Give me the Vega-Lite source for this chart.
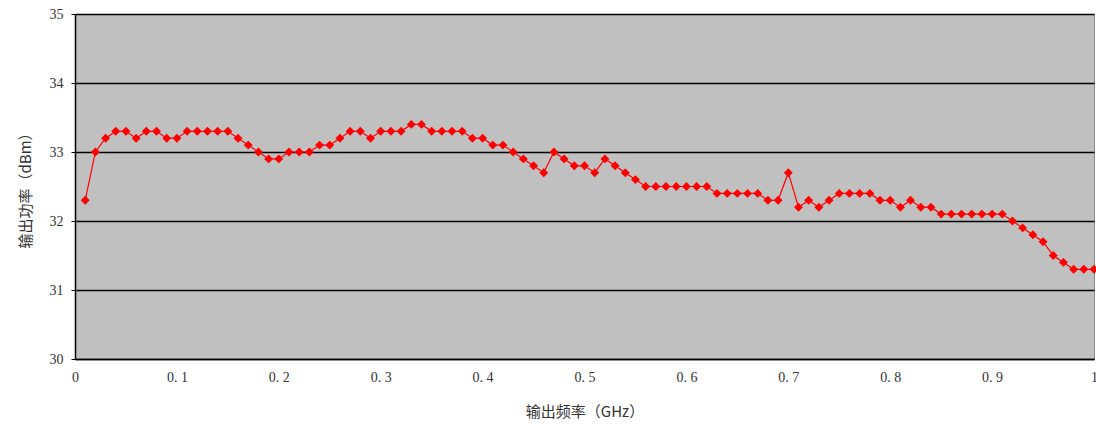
{
  "$schema": "https://vega.github.io/schema/vega-lite/v6.json",
  "width": 1019,
  "height": 345,
  "autosize": {"type": "none"},
  "padding": {"left": 75, "top": 14, "right": 2, "bottom": 72},
  "background": "white",
  "config": {
    "view": {"fill": "#C0C0C0", "stroke": "#8C8C8C", "strokeWidth": 1},
    "axis": {
      "labelFont": "Liberation Serif",
      "labelFontSize": 14,
      "labelColor": "#333333",
      "titleFont": "Noto Sans CJK SC",
      "titleFontSize": 15,
      "titleFontWeight": "normal",
      "titleColor": "#333333",
      "domainColor": "black",
      "domainWidth": 1.5,
      "tickColor": "black"
    }
  },
  "data": {
    "values": [
      {"f": 0.01, "p": 32.3}, {"f": 0.02, "p": 33.0}, {"f": 0.03, "p": 33.2}, {"f": 0.04, "p": 33.3}, {"f": 0.05, "p": 33.3},
      {"f": 0.06, "p": 33.2}, {"f": 0.07, "p": 33.3}, {"f": 0.08, "p": 33.3}, {"f": 0.09, "p": 33.2}, {"f": 0.10, "p": 33.2},
      {"f": 0.11, "p": 33.3}, {"f": 0.12, "p": 33.3}, {"f": 0.13, "p": 33.3}, {"f": 0.14, "p": 33.3}, {"f": 0.15, "p": 33.3},
      {"f": 0.16, "p": 33.2}, {"f": 0.17, "p": 33.1}, {"f": 0.18, "p": 33.0}, {"f": 0.19, "p": 32.9}, {"f": 0.20, "p": 32.9},
      {"f": 0.21, "p": 33.0}, {"f": 0.22, "p": 33.0}, {"f": 0.23, "p": 33.0}, {"f": 0.24, "p": 33.1}, {"f": 0.25, "p": 33.1},
      {"f": 0.26, "p": 33.2}, {"f": 0.27, "p": 33.3}, {"f": 0.28, "p": 33.3}, {"f": 0.29, "p": 33.2}, {"f": 0.30, "p": 33.3},
      {"f": 0.31, "p": 33.3}, {"f": 0.32, "p": 33.3}, {"f": 0.33, "p": 33.4}, {"f": 0.34, "p": 33.4}, {"f": 0.35, "p": 33.3},
      {"f": 0.36, "p": 33.3}, {"f": 0.37, "p": 33.3}, {"f": 0.38, "p": 33.3}, {"f": 0.39, "p": 33.2}, {"f": 0.40, "p": 33.2},
      {"f": 0.41, "p": 33.1}, {"f": 0.42, "p": 33.1}, {"f": 0.43, "p": 33.0}, {"f": 0.44, "p": 32.9}, {"f": 0.45, "p": 32.8},
      {"f": 0.46, "p": 32.7}, {"f": 0.47, "p": 33.0}, {"f": 0.48, "p": 32.9}, {"f": 0.49, "p": 32.8}, {"f": 0.50, "p": 32.8},
      {"f": 0.51, "p": 32.7}, {"f": 0.52, "p": 32.9}, {"f": 0.53, "p": 32.8}, {"f": 0.54, "p": 32.7}, {"f": 0.55, "p": 32.6},
      {"f": 0.56, "p": 32.5}, {"f": 0.57, "p": 32.5}, {"f": 0.58, "p": 32.5}, {"f": 0.59, "p": 32.5}, {"f": 0.60, "p": 32.5},
      {"f": 0.61, "p": 32.5}, {"f": 0.62, "p": 32.5}, {"f": 0.63, "p": 32.4}, {"f": 0.64, "p": 32.4}, {"f": 0.65, "p": 32.4},
      {"f": 0.66, "p": 32.4}, {"f": 0.67, "p": 32.4}, {"f": 0.68, "p": 32.3}, {"f": 0.69, "p": 32.3}, {"f": 0.70, "p": 32.7},
      {"f": 0.71, "p": 32.2}, {"f": 0.72, "p": 32.3}, {"f": 0.73, "p": 32.2}, {"f": 0.74, "p": 32.3}, {"f": 0.75, "p": 32.4},
      {"f": 0.76, "p": 32.4}, {"f": 0.77, "p": 32.4}, {"f": 0.78, "p": 32.4}, {"f": 0.79, "p": 32.3}, {"f": 0.80, "p": 32.3},
      {"f": 0.81, "p": 32.2}, {"f": 0.82, "p": 32.3}, {"f": 0.83, "p": 32.2}, {"f": 0.84, "p": 32.2}, {"f": 0.85, "p": 32.1},
      {"f": 0.86, "p": 32.1}, {"f": 0.87, "p": 32.1}, {"f": 0.88, "p": 32.1}, {"f": 0.89, "p": 32.1}, {"f": 0.90, "p": 32.1},
      {"f": 0.91, "p": 32.1}, {"f": 0.92, "p": 32.0}, {"f": 0.93, "p": 31.9}, {"f": 0.94, "p": 31.8}, {"f": 0.95, "p": 31.7},
      {"f": 0.96, "p": 31.5}, {"f": 0.97, "p": 31.4}, {"f": 0.98, "p": 31.3}, {"f": 0.99, "p": 31.3}, {"f": 1.00, "p": 31.3}
    ]
  },
  "encoding": {
    "x": {
      "field": "f",
      "type": "quantitative",
      "scale": {"domain": [0, 1], "nice": false, "zero": true},
      "axis": {
        "title": "输出频率（GHz）",
        "values": [0, 0.1, 0.2, 0.3, 0.4, 0.5, 0.6, 0.7, 0.8, 0.9, 1],
        "labelExpr": "datum.value == 0 ? '0' : datum.value == 1 ? '1' : replace(format(datum.value, '.1f'), '.', '. ')",
        "grid": false,
        "ticks": false,
        "labelPadding": 11,
        "titlePadding": 20,
        "labelFlush": false
      }
    },
    "y": {
      "field": "p",
      "type": "quantitative",
      "scale": {"domain": [30, 35], "nice": false, "zero": false},
      "axis": {
        "title": "输出功率（dBm）",
        "values": [30, 31, 32, 33, 34, 35],
        "grid": true,
        "gridColor": "black",
        "gridWidth": 1.3,
        "gridOpacity": 1,
        "ticks": true,
        "tickSize": 4,
        "labelPadding": 8,
        "titlePadding": 16
      }
    }
  },
  "layer": [
    {
      "mark": {"type": "line", "color": "#FF0000", "strokeWidth": 1.2}
    },
    {
      "mark": {"type": "point", "shape": "diamond", "filled": true, "color": "#FF0000", "size": 80, "opacity": 1}
    }
  ]
}
